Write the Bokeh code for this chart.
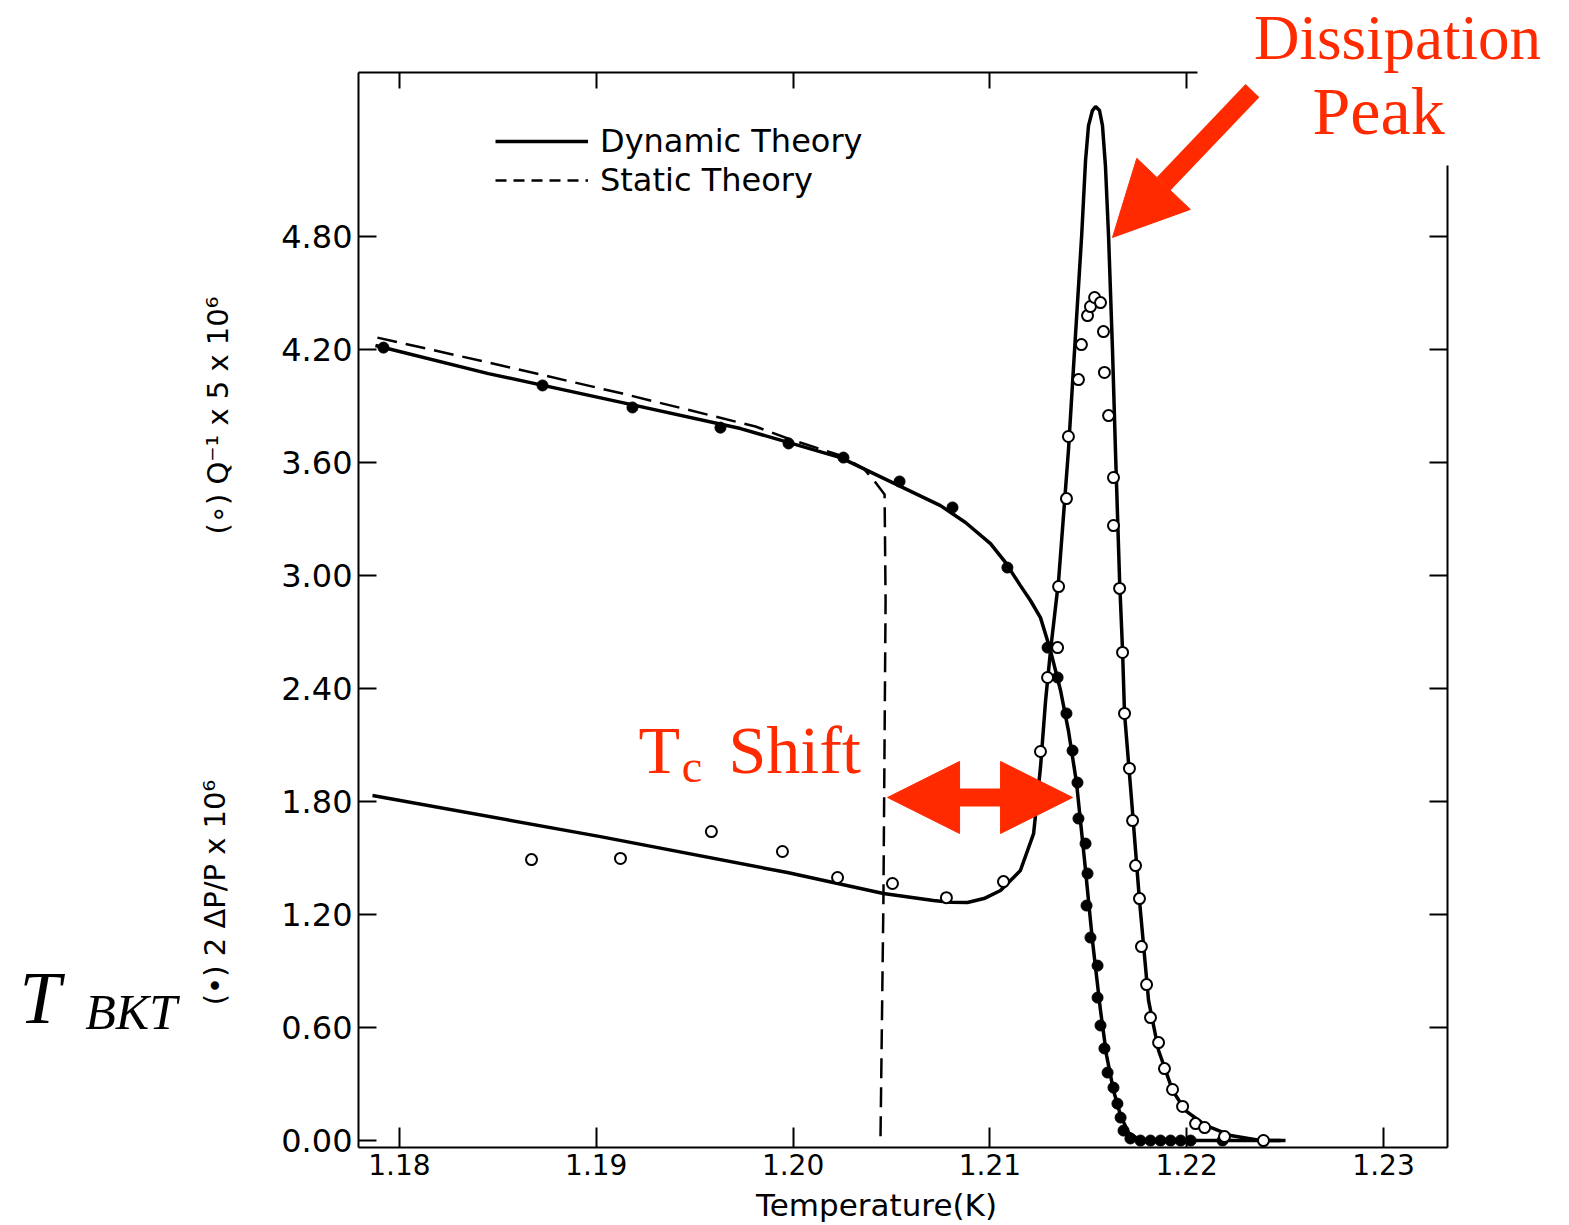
from bokeh.plotting import figure
from bokeh.models import (Range1d, LinearAxis, FixedTicker, PrintfTickFormatter,
                          Label, Arrow, NormalHead, Legend, LegendItem)
from bokeh.embed import file_html
from bokeh.resources import INLINE

# ---------------- data ----------------
# (•) 2 ΔP/P x 10^6  -- filled dots
pshift_T = [1.17919, 1.18727, 1.19184, 1.19631, 1.19977, 1.20256, 1.20541, 1.20810,
            1.21089, 1.21293, 1.21344, 1.21389, 1.21420, 1.21445, 1.21450, 1.21486,
            1.21496, 1.21491, 1.21511, 1.21547, 1.21547, 1.21562, 1.21582, 1.21598,
            1.21628, 1.21648, 1.21664, 1.21679, 1.21714, 1.21765, 1.21816, 1.21867,
            1.21918, 1.21969, 1.22020, 1.22182, 1.22390]
pshift_V = [4.211, 4.010, 3.893, 3.786, 3.702, 3.627, 3.500, 3.362,
            3.043, 2.618, 2.459, 2.268, 2.071, 1.901, 1.710, 1.577,
            1.418, 1.248, 1.078, 0.929, 0.759, 0.611, 0.489, 0.361,
            0.281, 0.196, 0.122, 0.053, 0.011, 0.0, 0.0, 0.0,
            0.0, 0.0, 0.0, 0.0, 0.0]

# (o) Q^-1 x 5 x 10^6 -- open circles
qinv_T = [1.18671, 1.19123, 1.19585, 1.19946, 1.20226, 1.20505, 1.20779, 1.21069,
          1.21257, 1.21293, 1.21344, 1.21349, 1.21389, 1.21399, 1.21450, 1.21465,
          1.21496, 1.21511, 1.21532, 1.21562, 1.21577, 1.21582, 1.21603, 1.21628,
          1.21628, 1.21659, 1.21674, 1.21684, 1.21709, 1.21725, 1.21740, 1.21760,
          1.21770, 1.21796, 1.21816, 1.21857, 1.21887, 1.21928, 1.21979, 1.22045,
          1.22091, 1.22192, 1.22390]
qinv_V = [1.492, 1.498, 1.641, 1.535, 1.397, 1.365, 1.290, 1.375,
          2.066, 2.459, 2.618, 2.942, 3.409, 3.739, 4.041, 4.227,
          4.381, 4.429, 4.477, 4.450, 4.296, 4.079, 3.850, 3.521,
          3.266, 2.932, 2.592, 2.268, 1.976, 1.699, 1.460, 1.285,
          1.030, 0.828, 0.653, 0.520, 0.382, 0.271, 0.181, 0.090,
          0.069, 0.021, 0.0]

# Dynamic theory, period shift branch
dynp_T = [1.17878, 1.18452, 1.19133, 1.19733, 1.20241, 1.20749, 1.20876, 1.21003,
          1.21079, 1.21155, 1.21206, 1.21257, 1.21308, 1.21359, 1.21399, 1.21440,
          1.21481, 1.21521, 1.21562, 1.21593, 1.21628, 1.21664, 1.21704, 1.21765,
          1.22477]
dynp_V = [4.222, 4.073, 3.919, 3.781, 3.627, 3.372, 3.282, 3.170,
          3.070, 2.947, 2.868, 2.777, 2.602, 2.390, 2.177, 1.901,
          1.487, 1.062, 0.690, 0.451, 0.266, 0.133, 0.042, 0.0,
          0.0]

# Dynamic theory, dissipation branch
dynq_T = [1.17863, 1.19021, 1.19971, 1.20459, 1.20713, 1.20800, 1.20886, 1.20970,
          1.21054, 1.21155, 1.21222, 1.21257, 1.21283, 1.21308, 1.21349, 1.21399,
          1.21430, 1.21466, 1.21486, 1.21501, 1.21521, 1.21537, 1.21557, 1.21572,
          1.21587, 1.21603, 1.21623, 1.21638, 1.21659, 1.21674, 1.21684, 1.21720,
          1.21760, 1.21806, 1.21857, 1.21928, 1.21994, 1.22096, 1.22223, 1.22375,
          1.22502]
dynq_V = [1.832, 1.614, 1.423, 1.312, 1.275, 1.265, 1.264, 1.285,
          1.328, 1.434, 1.630, 1.981, 2.337, 2.602, 2.974, 3.664,
          4.195, 4.801, 5.205, 5.390, 5.470, 5.491, 5.470, 5.390,
          5.178, 4.801, 4.195, 3.664, 2.974, 2.602, 2.268, 1.806,
          1.275, 0.744, 0.478, 0.266, 0.159, 0.080, 0.027, 0.0,
          0.0]

# Static theory
stat_T = [1.17888, 1.18452, 1.19133, 1.19809, 1.19987, 1.20241, 1.20358, 1.20419,
          1.20465, 1.20470, 1.20459, 1.20444]
stat_V = [4.264, 4.132, 3.967, 3.792, 3.723, 3.638, 3.569, 3.494,
          3.431, 2.868, 1.275, 0.0]

x_ticks = [1.18, 1.19, 1.20, 1.21, 1.22, 1.23]
y_ticks = [0.0, 0.6, 1.2, 1.8, 2.4, 3.0, 3.6, 4.2, 4.8]

X0, X1 = 1.17792, 1.23325
Y0, Y1 = -0.037, 5.672

RED = "#ff2a00"
FONT = "DejaVu Sans"
SERIF = "Liberation Serif"

p = figure(width=1569, height=1225, x_range=Range1d(X0, X1), y_range=Range1d(Y0, Y1),
           output_backend="svg", toolbar_location=None,
           min_border_left=358, min_border_right=122, min_border_top=72, min_border_bottom=78)
p.grid.visible = False
p.outline_line_color = None
p.background_fill_color = "white"
p.border_fill_color = "white"

def style_axis(ax, tick_in, size="28px", standoff=6):
    ax.major_tick_in = tick_in
    ax.major_tick_out = 0
    ax.minor_tick_line_color = None
    ax.axis_line_width = 2
    ax.axis_line_color = "black"
    ax.major_tick_line_width = 2
    ax.major_tick_line_color = "black"
    ax.major_label_text_font = FONT
    ax.major_label_text_font_size = size
    ax.major_label_text_color = "black"
    ax.major_label_standoff = standoff

xa = p.xaxis[0]
xa.ticker = FixedTicker(ticks=x_ticks)
xa.formatter = PrintfTickFormatter(format="%.2f")
style_axis(xa, 20)

ya = p.yaxis[0]
ya.ticker = FixedTicker(ticks=y_ticks)
ya.formatter = PrintfTickFormatter(format="%.2f")
style_axis(ya, 18, "32px")

top = LinearAxis(ticker=FixedTicker(ticks=x_ticks[:5]), bounds=(X0, 1.22055))
style_axis(top, 16, "1px", 0)
top.major_label_text_color = None
p.add_layout(top, "above")

right = LinearAxis(ticker=FixedTicker(ticks=y_ticks[1:]), bounds=(Y0, 5.178))
style_axis(right, 18, "1px", 0)
right.major_label_text_color = None
p.add_layout(right, "right")

# theory curves
r_dynq = p.line(dynq_T, dynq_V, line_color="black", line_width=3.5)
p.line(dynp_T, dynp_V, line_color="black", line_width=3.5)
p.line(stat_T, stat_V, line_color="black", line_width=2.5, line_dash="20 9")

# data points
p.scatter(pshift_T, pshift_V, marker="circle", size=11, fill_color="black", line_color="black")
p.scatter(qinv_T, qinv_V, marker="circle", size=11, fill_color="white",
          line_color="black", line_width=2)

# legend (static-theory sample drawn with the legend's own dash pattern)
r_stat_leg = p.line([float("nan")], [float("nan")], line_color="black", line_width=2.5,
                    line_dash="11 7")
legend = Legend(items=[LegendItem(label="Dynamic Theory", renderers=[r_dynq]),
                       LegendItem(label="Static Theory", renderers=[r_stat_leg])],
                location=(137, 948), glyph_width=93, glyph_height=30, label_standoff=12,
                spacing=1, padding=0, margin=0, border_line_color=None,
                background_fill_alpha=0, label_text_font=FONT, label_text_font_size="32px",
                label_text_color="black")
p.add_layout(legend)

def side_label(side, **kw):
    kw.setdefault("text_color", "black")
    kw.setdefault("text_baseline", "middle")
    p.add_layout(Label(**kw), side)

# texts outside the frame (placed in side panels so they are not clipped)
side_label("below", x=1.20424, y=-0.345, text="Temperature(K)", text_font=FONT,
           text_font_size="31px", text_align="center")
side_label("left", x=1.17080, y=3.850, text="(∘) Q⁻¹ x 5 x 10⁶", text_font=FONT,
           text_font_size="29px", angle=1.5708, text_align="center")
side_label("left", x=1.17065, y=1.317, text="(•) 2 ΔP/P x 10⁶", text_font=FONT,
           text_font_size="29px", angle=1.5708, text_align="center")
side_label("left", x=1.16070, y=0.759, text="T", text_font=SERIF, text_font_style="italic",
           text_font_size="74px", text_align="left")
side_label("left", x=1.16404, y=0.680, text="BKT", text_font=SERIF, text_font_style="italic",
           text_font_size="50px", text_align="left")
side_label("above", x=1.23071, y=5.855, text="Dissipation", text_font=SERIF,
           text_font_size="63px", text_color=RED, text_align="center")

# red annotations inside the frame
p.add_layout(Label(x=1.22975, y=5.470, text="Peak", text_font=SERIF, text_font_size="68px",
                   text_color=RED, text_align="center", text_baseline="middle"))
p.add_layout(Label(x=1.19215, y=2.076, text="T", text_font=SERIF, text_font_size="68px",
                   text_color=RED, text_align="left", text_baseline="middle"))
p.add_layout(Label(x=1.19435, y=1.986, text="c", text_font=SERIF, text_font_size="46px",
                   text_color=RED, text_align="left", text_baseline="middle"))
p.add_layout(Label(x=1.19672, y=2.076, text="Shift", text_font=SERIF, text_font_size="68px",
                   text_color=RED, text_align="left", text_baseline="middle"))

p.add_layout(Arrow(x_start=1.22334, y_start=5.576, x_end=1.21623, y_end=4.796,
                   line_color=RED, line_width=19,
                   end=NormalHead(size=74, fill_color=RED, line_color=RED, line_width=1)))
p.add_layout(Arrow(x_start=1.20480, y_start=1.822, x_end=1.21420, y_end=1.822,
                   line_color=RED, line_width=18,
                   start=NormalHead(size=72, fill_color=RED, line_color=RED, line_width=1),
                   end=NormalHead(size=72, fill_color=RED, line_color=RED, line_width=1)))

open("out.html", "w").write(file_html(p, INLINE))
